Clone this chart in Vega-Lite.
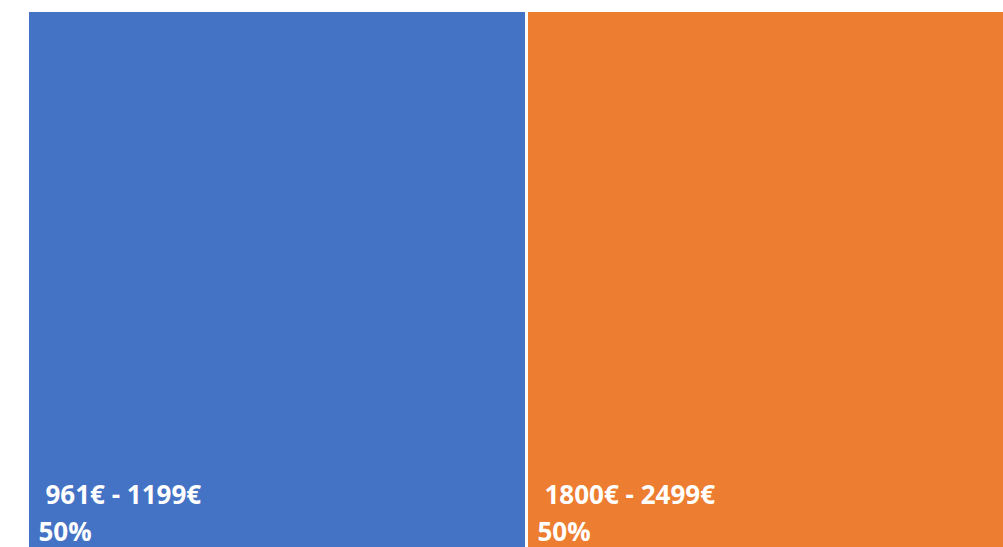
{
  "$schema": "https://vega.github.io/schema/vega-lite/v6.json",
  "autosize": {"type": "none"},
  "padding": {"left": 27.5, "top": 10.5, "right": 0, "bottom": 0},
  "width": 998,
  "height": 540,
  "background": "white",
  "config": {"view": {"stroke": null}},
  "data": {
    "values": [
      {"category": "961€ - 1199€", "share": 50, "start": 0, "end": 50, "pct": "50%"},
      {"category": "1800€ - 2499€", "share": 50, "start": 50, "end": 100, "pct": "50%"}
    ]
  },
  "layer": [
    {
      "mark": {"type": "rect", "stroke": "white", "strokeWidth": 3},
      "encoding": {
        "x": {"field": "start", "type": "quantitative", "scale": {"domain": [0, 100], "nice": false, "zero": false}, "axis": null},
        "x2": {"field": "end"},
        "color": {"field": "category", "type": "nominal", "scale": {"domain": ["961€ - 1199€", "1800€ - 2499€"], "range": ["#4472C4", "#ED7D31"]}, "legend": null}
      }
    },
    {
      "mark": {"type": "text", "align": "left", "baseline": "alphabetic", "font": "Open Sans", "fontWeight": "bold", "fontSize": 26, "color": "white", "dx": 18, "dy": -46.5},
      "encoding": {
        "x": {"field": "start", "type": "quantitative"},
        "y": {"value": {"expr": "height"}},
        "text": {"field": "category"}
      }
    },
    {
      "mark": {"type": "text", "align": "left", "baseline": "alphabetic", "font": "Open Sans", "fontWeight": "bold", "fontSize": 26, "color": "white", "dx": 11, "dy": -9.5},
      "encoding": {
        "x": {"field": "start", "type": "quantitative"},
        "y": {"value": {"expr": "height"}},
        "text": {"field": "pct"}
      }
    }
  ]
}
